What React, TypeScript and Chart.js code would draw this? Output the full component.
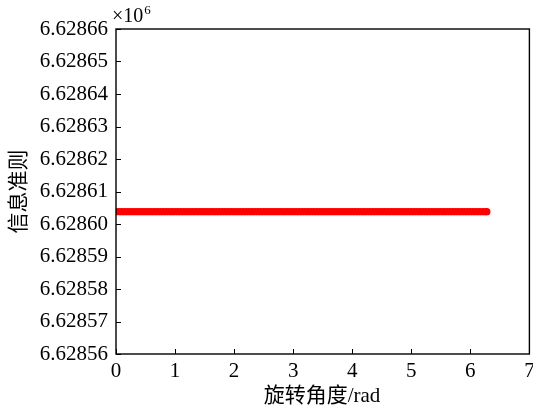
import React, { useEffect, useRef } from "react";
import { Chart, registerables } from "chart.js";

Chart.register(...registerables);

const angles: number[] = [
  0.0, 0.05, 0.1, 0.15, 0.2, 0.25, 0.3, 0.35, 0.4, 0.45,
  0.5, 0.55, 0.6, 0.65, 0.7, 0.75, 0.8, 0.85, 0.9, 0.95,
  1.0, 1.05, 1.1, 1.15, 1.2, 1.25, 1.3, 1.35, 1.4, 1.45,
  1.5, 1.55, 1.6, 1.65, 1.7, 1.75, 1.8, 1.85, 1.9, 1.95,
  2.0, 2.05, 2.1, 2.15, 2.2, 2.25, 2.3, 2.35, 2.4, 2.45,
  2.5, 2.55, 2.6, 2.65, 2.7, 2.75, 2.8, 2.85, 2.9, 2.95,
  3.0, 3.05, 3.1, 3.15, 3.2, 3.25, 3.3, 3.35, 3.4, 3.45,
  3.5, 3.55, 3.6, 3.65, 3.7, 3.75, 3.8, 3.85, 3.9, 3.95,
  4.0, 4.05, 4.1, 4.15, 4.2, 4.25, 4.3, 4.35, 4.4, 4.45,
  4.5, 4.55, 4.6, 4.65, 4.7, 4.75, 4.8, 4.85, 4.9, 4.95,
  5.0, 5.05, 5.1, 5.15, 5.2, 5.25, 5.3, 5.35, 5.4, 5.45,
  5.5, 5.55, 5.6, 5.65, 5.7, 5.75, 5.8, 5.85, 5.9, 5.95,
  6.0, 6.05, 6.1, 6.15, 6.2, 6.25, 6.28,
];
const criterion: number[] = [
  6628603.8, 6628603.8, 6628603.8, 6628603.8, 6628603.8, 6628603.8, 6628603.8, 6628603.8, 6628603.8, 6628603.8,
  6628603.8, 6628603.8, 6628603.8, 6628603.8, 6628603.8, 6628603.8, 6628603.8, 6628603.8, 6628603.8, 6628603.8,
  6628603.8, 6628603.8, 6628603.8, 6628603.8, 6628603.8, 6628603.8, 6628603.8, 6628603.8, 6628603.8, 6628603.8,
  6628603.8, 6628603.8, 6628603.8, 6628603.8, 6628603.8, 6628603.8, 6628603.8, 6628603.8, 6628603.8, 6628603.8,
  6628603.8, 6628603.8, 6628603.8, 6628603.8, 6628603.8, 6628603.8, 6628603.8, 6628603.8, 6628603.8, 6628603.8,
  6628603.8, 6628603.8, 6628603.8, 6628603.8, 6628603.8, 6628603.8, 6628603.8, 6628603.8, 6628603.8, 6628603.8,
  6628603.8, 6628603.8, 6628603.8, 6628603.8, 6628603.8, 6628603.8, 6628603.8, 6628603.8, 6628603.8, 6628603.8,
  6628603.8, 6628603.8, 6628603.8, 6628603.8, 6628603.8, 6628603.8, 6628603.8, 6628603.8, 6628603.8, 6628603.8,
  6628603.8, 6628603.8, 6628603.8, 6628603.8, 6628603.8, 6628603.8, 6628603.8, 6628603.8, 6628603.8, 6628603.8,
  6628603.8, 6628603.8, 6628603.8, 6628603.8, 6628603.8, 6628603.8, 6628603.8, 6628603.8, 6628603.8, 6628603.8,
  6628603.8, 6628603.8, 6628603.8, 6628603.8, 6628603.8, 6628603.8, 6628603.8, 6628603.8, 6628603.8, 6628603.8,
  6628603.8, 6628603.8, 6628603.8, 6628603.8, 6628603.8, 6628603.8, 6628603.8, 6628603.8, 6628603.8, 6628603.8,
  6628603.8, 6628603.8, 6628603.8, 6628603.8, 6628603.8, 6628603.8, 6628603.8,
];
const xTicks: number[] = [0, 1, 2, 3, 4, 5, 6, 7];
const yTicks: number[] = [6628560, 6628570, 6628580, 6628590, 6628600, 6628610, 6628620, 6628630, 6628640, 6628650, 6628660];
const xTitle = "旋转角度/rad";
const yTitle = "信息准则";

const FONT = "'Liberation Serif', 'Noto Sans CJK SC', serif";

export default function App() {
  const ref = useRef<HTMLCanvasElement | null>(null);
  useEffect(() => {
    document.body.style.margin = "0";
    const canvas = ref.current!;
    const framePlugin = {
      id: "frame",
      afterDraw(chart: any) {
        const { ctx, chartArea: a, scales } = chart;
        ctx.save();
        ctx.strokeStyle = "#000";
        ctx.lineWidth = 1.4;
        ctx.strokeRect(a.left, a.top, a.right - a.left, a.bottom - a.top);
        ctx.lineWidth = 1;
        ctx.beginPath();
        for (const v of xTicks) {
          const px = Math.round(scales.x.getPixelForValue(v)) + 0.5;
          ctx.moveTo(px, a.bottom);
          ctx.lineTo(px, a.bottom - 5);
        }
        for (const v of yTicks) {
          const py = Math.round(scales.y.getPixelForValue(v)) + 0.5;
          ctx.moveTo(a.left, py);
          ctx.lineTo(a.left + 5, py);
        }
        ctx.stroke();
        ctx.fillStyle = "#000";
        ctx.font = `21px ${FONT}`;
        ctx.textAlign = "center";
        ctx.textBaseline = "middle";
        ctx.fillText(xTitle, 322, 396);
        ctx.save();
        ctx.translate(19, (a.top + a.bottom) / 2);
        ctx.rotate(-Math.PI / 2);
        ctx.fillText(yTitle, 0, 0);
        ctx.restore();
        ctx.textAlign = "left";
        ctx.textBaseline = "alphabetic";
        ctx.font = `20px ${FONT}`;
        ctx.fillText("×10", a.left - 4, 22);
        const w = ctx.measureText("×10").width;
        ctx.font = `13px ${FONT}`;
        ctx.fillText("6", a.left - 4 + w + 1, 14);
        ctx.restore();
      },
    };
    const chart = new Chart(canvas, {
      type: "scatter",
      data: {
        datasets: [
          {
            data: angles.map((x, i) => ({ x, y: criterion[i] })),
            backgroundColor: "#ff0000",
            borderColor: "#ff0000",
            borderWidth: 0,
            pointRadius: 3.6,
            pointHoverRadius: 3.6,
          },
        ],
      },
      options: {
        animation: false,
        responsive: false,
        events: [],
        layout: { padding: { top: 29, right: 3, left: 0, bottom: 0 } },
        plugins: { legend: { display: false }, tooltip: { enabled: false } },
        scales: {
          x: {
            type: "linear",
            min: 0,
            max: 7,
            afterFit: (s: any) => { s.height = 58; s.paddingRight = 0; s.paddingLeft = 0; },
            afterBuildTicks: (s: any) => { s.ticks = xTicks.map((v) => ({ value: v })); },
            grid: { display: false, drawTicks: false },
            border: { display: false },
            ticks: { color: "#000", padding: 5, font: { family: FONT, size: 21 }, maxRotation: 0 },
          },
          y: {
            type: "linear",
            min: 6628560,
            max: 6628660,
            afterFit: (s: any) => { s.width = 116; s.paddingTop = 0; s.paddingBottom = 0; },
            afterBuildTicks: (s: any) => { s.ticks = yTicks.map((v) => ({ value: v })); },
            grid: { display: false, drawTicks: false },
            border: { display: false },
            ticks: {
              color: "#000",
              padding: 8,
              font: { family: FONT, size: 21 },
              callback: (v: any) => (Number(v) / 1e6).toFixed(5),
            },
          },
        },
      },
      plugins: [framePlugin],
    });
    return () => chart.destroy();
  }, []);
  return <canvas ref={ref} width={533} height={412} style={{ display: "block" }} />;
}
